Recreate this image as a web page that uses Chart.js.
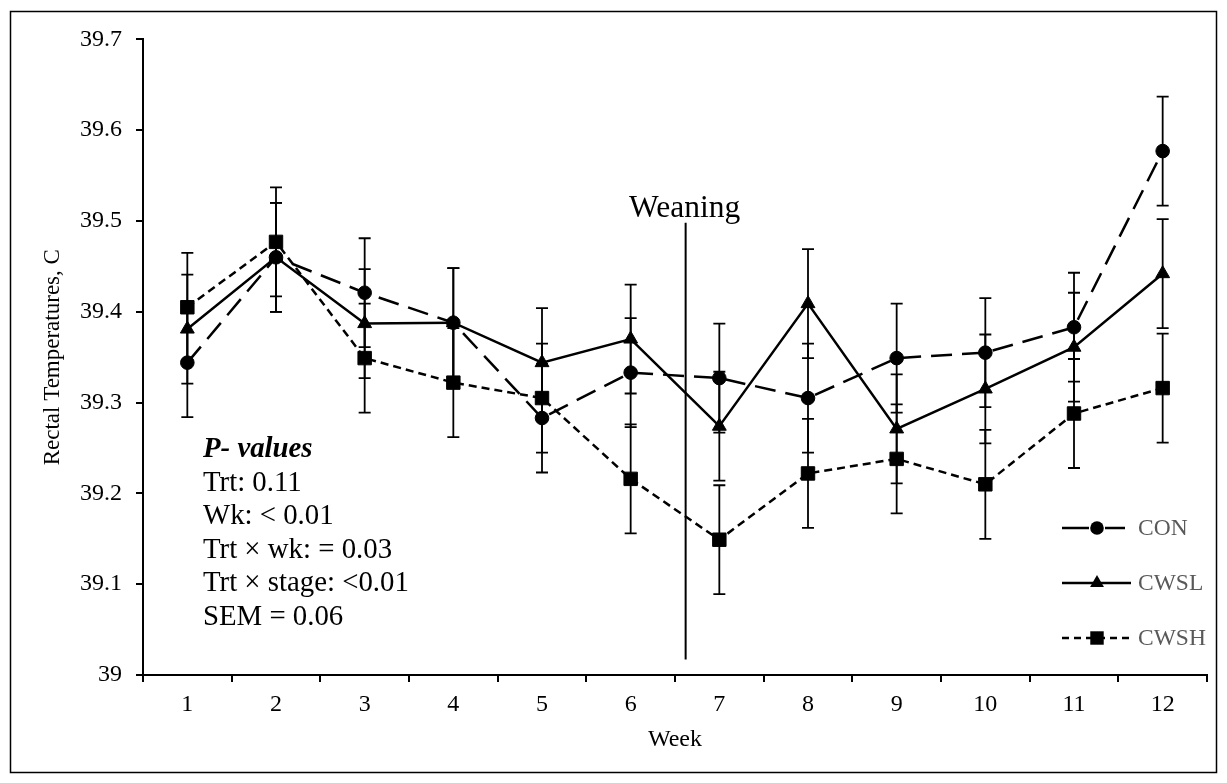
<!DOCTYPE html>
<html>
<head>
<meta charset="utf-8">
<script src="https://cdn.jsdelivr.net/npm/chart.js@4.4.1/dist/chart.umd.min.js"></script>
<style>
html,body{margin:0;padding:0;background:#fff;}
#wrap{width:1227px;height:783px;}
</style>
</head>
<body>
<div id="wrap"><canvas id="c" width="1227" height="783"></canvas></div>
<script>
// ---- data ----
const weeks = ['1','2','3','4','5','6','7','8','9','10','11','12'];
const conValues  = [39.344, 39.460, 39.421, 39.388, 39.283, 39.333, 39.327, 39.305, 39.349, 39.355, 39.383, 39.577];
const cwslValues = [39.381, 39.460, 39.387, 39.388, 39.344, 39.370, 39.274, 39.409, 39.271, 39.315, 39.361, 39.442];
const cwshValues = [39.405, 39.477, 39.349, 39.322, 39.305, 39.216, 39.149, 39.222, 39.238, 39.210, 39.288, 39.316];
const conErr  = [0.06,0.06,0.06,0.06,0.06,0.06,0.06,0.06,0.06,0.06,0.06,0.06];
const cwslErr = [0.06,0.06,0.06,0.06,0.06,0.06,0.06,0.06,0.06,0.06,0.06,0.06];
const cwshErr = [0.06,0.06,0.06,0.06,0.06,0.06,0.06,0.06,0.06,0.06,0.06,0.06];
const seriesNames = ['CON','CWSL','CWSH'];
const yTicks = [39, 39.1, 39.2, 39.3, 39.4, 39.5, 39.6, 39.7];
const weaningWeek = 6.62;        // position between week 6 and 7
const weaningRange = [39.017, 39.498];
const pValueLines = ['P- values','Trt: 0.11','Wk: < 0.01','Trt \u00d7 wk: = 0.03','Trt \u00d7 stage: <0.01','SEM = 0.06'];

const FONT = "'Liberation Serif','Times New Roman',serif";

const errorBars = {
  id:'errorBars',
  afterDatasetsDraw(chart){
    const ctx = chart.ctx, ys = chart.scales.y;
    ctx.save();
    ctx.strokeStyle = '#000'; ctx.lineWidth = 1.8; ctx.setLineDash([]);
    chart.data.datasets.forEach((ds, di) => {
      const meta = chart.getDatasetMeta(di);
      meta.data.forEach((pt, i) => {
        const v = ds.data[i], e = ds.errors[i];
        const yt = ys.getPixelForValue(v + e), yb = ys.getPixelForValue(v - e);
        const x = pt.x;
        ctx.beginPath();
        ctx.moveTo(x, yt); ctx.lineTo(x, yb);
        ctx.moveTo(x - 6, yt); ctx.lineTo(x + 6, yt);
        ctx.moveTo(x - 6, yb); ctx.lineTo(x + 6, yb);
        ctx.stroke();
      });
    });
    ctx.restore();
  }
};

function marker(ctx, style, x, y, r){
  ctx.beginPath();
  if (style === 'circle') { ctx.arc(x, y, r, 0, Math.PI*2); }
  else if (style === 'rect') { const s = r*Math.SQRT1_2; ctx.rect(x-s, y-s, 2*s, 2*s); }
  else if (style === 'triangle') {
    ctx.moveTo(x, y - r);
    ctx.lineTo(x + r*Math.sin(Math.PI*2/3), y - r*Math.cos(Math.PI*2/3));
    ctx.lineTo(x - r*Math.sin(Math.PI*2/3), y - r*Math.cos(Math.PI*2/3));
    ctx.closePath();
  }
  ctx.fill();
}

const legendDash = [[27, 16, 20, 100], [], [7, 5]];

const extras = {
  id:'extras',
  afterDraw(chart){
    const ctx = chart.ctx, xs = chart.scales.x, ys = chart.scales.y;
    ctx.save();
    // weaning line
    const wx = xs.getPixelForValue(weaningWeek - 1);
    ctx.strokeStyle = '#000'; ctx.lineWidth = 2; ctx.setLineDash([]);
    ctx.beginPath();
    ctx.moveTo(wx, ys.getPixelForValue(weaningRange[0]));
    ctx.lineTo(wx, ys.getPixelForValue(weaningRange[1]));
    ctx.stroke();
    ctx.fillStyle = '#000';
    ctx.font = '31.5px ' + FONT;
    ctx.textAlign = 'center'; ctx.textBaseline = 'alphabetic';
    ctx.fillText('Weaning', wx - 1, ys.getPixelForValue(weaningRange[1]) - 6);
    // p-values text
    ctx.textAlign = 'left';
    pValueLines.forEach((t, i) => {
      ctx.font = (i === 0 ? 'italic bold ' : '') + '28.8px ' + FONT;
      ctx.fillText(t, 203, 457 + i*33.6);
    });
    // legend
    const rows = [528, 583, 638];
    chart.data.datasets.forEach((ds, i) => {
      const y = rows[i];
      ctx.strokeStyle = '#000'; ctx.lineWidth = 2.5;
      ctx.setLineDash(legendDash[i]);
      ctx.beginPath(); ctx.moveTo(1062, y); ctx.lineTo(i === 0 ? 1125 : 1131, y); ctx.stroke();
      ctx.setLineDash([]);
      ctx.fillStyle = '#000';
      marker(ctx, ds.pointStyle, 1097, y, ds.pointRadius);
      ctx.fillStyle = '#595959';
      ctx.font = '23.5px ' + FONT;
      ctx.textBaseline = 'middle';
      ctx.fillText(ds.label, 1138, y + 1);
    });
    // outer border
    ctx.strokeStyle = '#000'; ctx.lineWidth = 1.5;
    ctx.strokeRect(10.5, 11.5, 1206, 761);
    ctx.restore();
  }
};

const chart = new Chart(document.getElementById('c'), {
  type:'line',
  data:{
    labels: weeks,
    datasets:[
      {label: seriesNames[0], data: conValues, errors: conErr, borderColor:'#000', backgroundColor:'#000',
       borderWidth:2.5, borderDash:[21,10], pointStyle:'circle', pointRadius:6.8, pointBorderWidth:1, tension:0},
      {label: seriesNames[1], data: cwslValues, errors: cwslErr, borderColor:'#000', backgroundColor:'#000',
       borderWidth:2.5, borderDash:[], pointStyle:'triangle', pointRadius:8, pointBorderWidth:1, tension:0},
      {label: seriesNames[2], data: cwshValues, errors: cwshErr, borderColor:'#000', backgroundColor:'#000',
       borderWidth:2.5, borderDash:[8,5], pointStyle:'rect', pointRadius:9.5, pointBorderWidth:1, tension:0}
    ]
  },
  options:{
    responsive:false,
    animation:false,
    layout:{padding:{left:0, right:20, top:39.4, bottom:0}},
    plugins:{legend:{display:false}, tooltip:{enabled:false}},
    scales:{
      x:{
        type:'category',
        offset:true,
        grid:{offset:true, drawOnChartArea:false, tickLength:7, color:'#000', lineWidth:2},
        border:{color:'#000', width:2},
        ticks:{color:'#000', font:{family:FONT, size:24}, padding:8, maxRotation:0, autoSkip:false},
        title:{display:true, text:'Week', color:'#000', font:{family:FONT, size:24}, padding:{top:0,bottom:29}},
        afterFit(s){ s.height = 108; }
      },
      y:{
        min:39, max:39.7,
        afterBuildTicks(s){ s.ticks = yTicks.map(v => ({value:v})); },
        grid:{drawOnChartArea:false, tickLength:7, color:'#000', lineWidth:2},
        border:{color:'#000', width:2},
        ticks:{color:'#000', font:{family:FONT, size:24}, padding:14,
               callback:(v) => String(Number(Number(v).toFixed(1)))},
        title:{display:true, text:'Rectal Temperatures, C', color:'#000', font:{family:FONT, size:23}, padding:{top:39,bottom:0}},
        afterFit(s){ s.width = 143; }
      }
    }
  },
  plugins:[errorBars, extras]
});
</script>
</body>
</html>
